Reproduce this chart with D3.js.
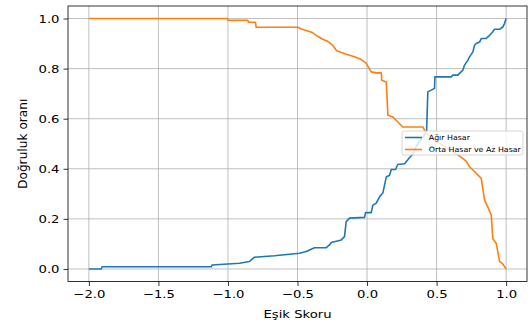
<!DOCTYPE html>
<html>
<head>
<meta charset="utf-8">
<script src="https://cdn.jsdelivr.net/npm/d3@7"></script>
<style>
  body { margin: 0; background: #fff; }
  svg text { font-family: "DejaVu Sans", sans-serif; fill: #000; }
  .grid line { stroke: #b0b0b0; stroke-width: 0.8; }
  .axis path, .axis line { stroke: #000; stroke-width: 0.8; }
</style>
</head>
<body>
<svg id="chart"></svg>
<script>
// threshold (x) and accuracy (y)
const agirX = [-2.0, -1.911, -1.905, -1.12, -1.115, -0.917, -0.845, -0.809, -0.665, -0.485, -0.437, -0.413, -0.377, -0.293, -0.270, -0.257, -0.185, -0.162, -0.150, -0.126, -0.018, -0.011, 0.030, 0.042, 0.066, 0.090, 0.114, 0.138, 0.162, 0.174, 0.205, 0.221, 0.270, 0.306, 0.329, 0.354, 0.377, 0.406, 0.428, 0.437, 0.462, 0.485, 0.488, 0.605, 0.617, 0.653, 0.665, 0.689, 0.701, 0.725, 0.737, 0.761, 0.773, 0.785, 0.809, 0.821, 0.857, 0.869, 0.881, 0.904, 0.916, 0.952, 0.976, 0.988, 1.0];
const agirY = [0.0, 0.0, 0.009, 0.009, 0.016, 0.023, 0.030, 0.047, 0.053, 0.063, 0.070, 0.076, 0.085, 0.085, 0.096, 0.106, 0.116, 0.129, 0.189, 0.203, 0.206, 0.225, 0.225, 0.255, 0.263, 0.288, 0.304, 0.367, 0.374, 0.397, 0.397, 0.417, 0.420, 0.445, 0.458, 0.489, 0.510, 0.530, 0.550, 0.707, 0.714, 0.721, 0.767, 0.767, 0.774, 0.774, 0.781, 0.794, 0.814, 0.834, 0.847, 0.867, 0.893, 0.900, 0.906, 0.920, 0.920, 0.927, 0.933, 0.947, 0.957, 0.957, 0.966, 0.980, 1.0];

const ortaX = [-2.0, -1.005, -1.0, -0.857, -0.852, -0.802, -0.797, -0.497, -0.473, -0.392, -0.356, -0.322, -0.284, -0.248, -0.219, -0.150, -0.090, -0.042, -0.007, 0.030, 0.066, 0.102, 0.106, 0.138, 0.150, 0.186, 0.257, 0.401, 0.426, 0.485, 0.521, 0.570, 0.666, 0.713, 0.737, 0.774, 0.821, 0.845, 0.868, 0.893, 0.904, 0.929, 0.953, 0.976, 1.0];
const ortaY = [1.0, 1.0, 0.993, 0.993, 0.985, 0.985, 0.965, 0.965, 0.958, 0.944, 0.929, 0.918, 0.909, 0.894, 0.871, 0.857, 0.847, 0.836, 0.822, 0.787, 0.783, 0.783, 0.754, 0.747, 0.614, 0.607, 0.567, 0.567, 0.540, 0.515, 0.503, 0.483, 0.451, 0.431, 0.408, 0.388, 0.362, 0.275, 0.248, 0.215, 0.122, 0.102, 0.029, 0.020, 0.0];

const seriesNames = ['Ağır Hasar', 'Orta Hasar ve Az Hasar'];
const seriesColors = ['#1f77b4', '#ff7f0e'];
const xTicks = [-2.0, -1.5, -1.0, -0.5, 0.0, 0.5, 1.0];
const yTicks = [0.0, 0.2, 0.4, 0.6, 0.8, 1.0];
const xLabel = 'Eşik Skoru';
const yLabel = 'Doğruluk oranı';

const width = 531, height = 324;
const margin = { top: 6, right: 4, bottom: 42.5, left: 68 };
const w = width - margin.left - margin.right;
const h = height - margin.top - margin.bottom;
const stretch = 1.2; // picture is wider than tall, text too

const svg = d3.select('#chart').attr('width', width).attr('height', height);
const chart = svg.append('g').attr('transform', `translate(${margin.left},${margin.top})`);

const xScale = d3.scaleLinear().domain([-2.15, 1.15]).range([0, w]);
const yScale = d3.scaleLinear().domain([-0.05, 1.05]).range([h, 0]);

// grid
chart.append('g').attr('class', 'grid')
  .selectAll('line.gx').data(xTicks).join('line')
  .attr('x1', d => xScale(d)).attr('x2', d => xScale(d))
  .attr('y1', 0).attr('y2', h);
chart.append('g').attr('class', 'grid')
  .selectAll('line.gy').data(yTicks).join('line')
  .attr('x1', 0).attr('x2', w)
  .attr('y1', d => yScale(d)).attr('y2', d => yScale(d));

// lines
const series = [
  { name: seriesNames[0], color: seriesColors[0], pts: agirX.map((x, i) => [x, agirY[i]]) },
  { name: seriesNames[1], color: seriesColors[1], pts: ortaX.map((x, i) => [x, ortaY[i]]) }
];
const line = d3.line().x(d => xScale(d[0])).y(d => yScale(d[1]));
chart.selectAll('.series').data(series).join('path')
  .attr('class', 'series')
  .attr('fill', 'none')
  .attr('stroke', d => d.color)
  .attr('stroke-width', 1.6)
  .attr('stroke-linejoin', 'round')
  .attr('d', d => line(d.pts));

// axes
const xAxis = d3.axisBottom(xScale).tickValues(xTicks).tickFormat(d3.format('.1f')).tickSize(4.5).tickPadding(4);
const yAxis = d3.axisLeft(yScale).tickValues(yTicks).tickFormat(d3.format('.1f')).tickSize(4.5).tickPadding(4);
const xAxisG = chart.append('g').attr('class', 'axis').attr('transform', `translate(0,${h})`).call(xAxis);
const yAxisG = chart.append('g').attr('class', 'axis').call(yAxis);
[xAxisG, yAxisG].forEach(g => g.select('.domain').remove());
xAxisG.selectAll('text').attr('font-size', 11).attr('font-family', null)
  .attr('transform', `scale(${stretch},1)`);
yAxisG.selectAll('text').attr('font-size', 11).attr('font-family', null)
  .attr('x', -8.5 / stretch).attr('transform', `scale(${stretch},1)`);

// frame
chart.append('rect').attr('width', w).attr('height', h)
  .attr('fill', 'none').attr('stroke', '#000').attr('stroke-width', 0.8);

// axis titles
svg.append('g').attr('transform', `translate(${margin.left + w / 2},${height - 6})`)
  .append('text').attr('text-anchor', 'middle').attr('font-size', 11)
  .attr('transform', `scale(${stretch},1)`).text(xLabel);
svg.append('text')
  .attr('transform', `translate(27,${margin.top + h / 2}) rotate(-90)`)
  .attr('text-anchor', 'middle').attr('font-size', 12.2).text(yLabel);

// legend
const legend = chart.append('g').attr('transform', `translate(${w - 125},${125})`);
legend.append('rect').attr('width', 121).attr('height', 24).attr('rx', 2)
  .attr('fill', '#fff').attr('fill-opacity', 0.8)
  .attr('stroke', '#ccc').attr('stroke-width', 0.8);
const items = legend.selectAll('.item').data(series).join('g')
  .attr('class', 'item')
  .attr('transform', (d, i) => `translate(3,${6.5 + i * 12})`);
items.append('line').attr('x1', 0).attr('x2', 17)
  .attr('stroke', d => d.color).attr('stroke-width', 1.6);
items.append('text').attr('x', 22).attr('dy', '0.35em').attr('font-size', 7.3)
  .attr('transform', 'scale(1.08,1)')
  .text(d => d.name);
</script>
</body>
</html>
